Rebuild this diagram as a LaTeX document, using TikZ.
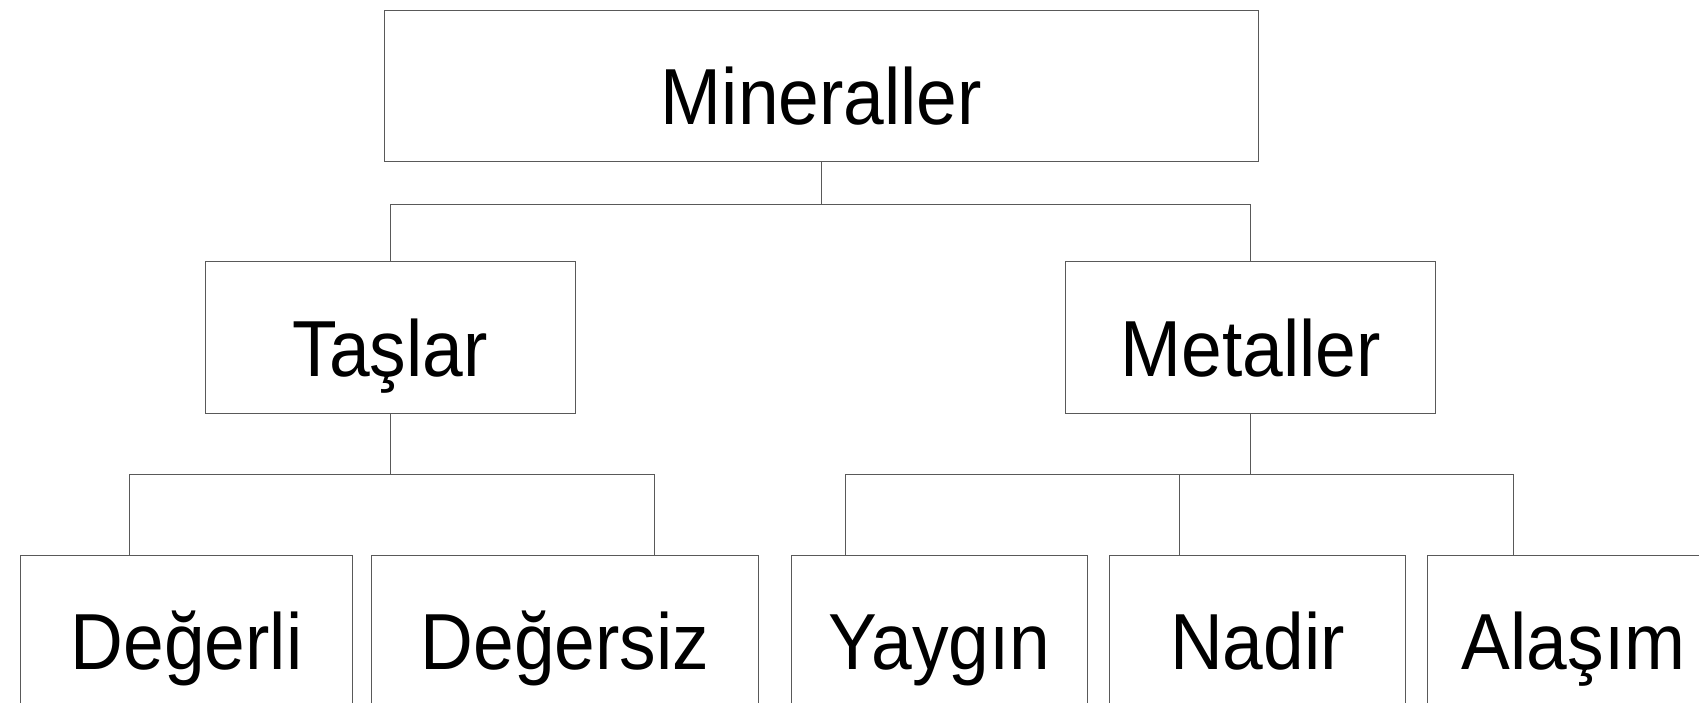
\documentclass[tikz,border=0pt]{standalone}
\usepackage{fontspec}
\setmainfont{Liberation Sans}[FakeStretch=0.92]
\usetikzlibrary{calc}

\begin{document}
\begin{tikzpicture}[x=1pt,y=-1pt,
		kutu/.style={draw=black!65, line width=1pt, minimum height=151pt, inner sep=0pt, text height=77pt, text depth=0pt, font=\fontsize{79.5pt}{95pt}\selectfont},
		hat/.style={draw=black!65, line width=1pt}]
		\useasboundingbox (0,0) rectangle (1699,703);
		\node[kutu, minimum width=874pt] (min) at (821.5,86.5) {Mineraller};
		\node[kutu, minimum width=370pt] (tas) at (390.2,337.5) {Taşlar};
		\node[kutu, minimum width=370pt] (met) at (1250.9,337.5) {Metaller};
		\node[kutu, minimum width=331.7pt] (deg) at (186.5,630.8) {Değerli};
		\node[kutu, minimum width=387.5pt] (degs) at (565,630.8) {Değersiz};
		\node[kutu, minimum width=295.2pt] (yay) at (939.5,630.8) {Yaygın};
		\node[kutu, minimum width=295.2pt] (nad) at (1257.5,630.8) {Nadir};
		\node[kutu, minimum width=292pt] (ala) at (1573.5,630.8) {Alaşım};
		\coordinate (d1) at (129.5,555.3);
		\coordinate (d2) at (654.2,555.3);
		\coordinate (y1) at (845.2,555.3);
		\coordinate (y2) at (1179.2,555.3);
		\coordinate (y3) at (1513.8,555.3);
		\draw[hat] (min.south) -- ++(0,41.7) coordinate (b1);
		\draw[hat] (tas.north) |- (met.north |- b1) -- (met.north);
		\draw[hat] (tas.south) -- ++(0,61.3) coordinate (b2);
		\draw[hat] (d1) |- (d2 |- b2) -- (d2);
		\draw[hat] (met.south) -- ++(0,61.3) coordinate (b3);
		\draw[hat] (y1) |- (y3 |- b3) -- (y3);
		\draw[hat] (y2) -- (y2 |- b3);
	\end{tikzpicture}
\end{document}
